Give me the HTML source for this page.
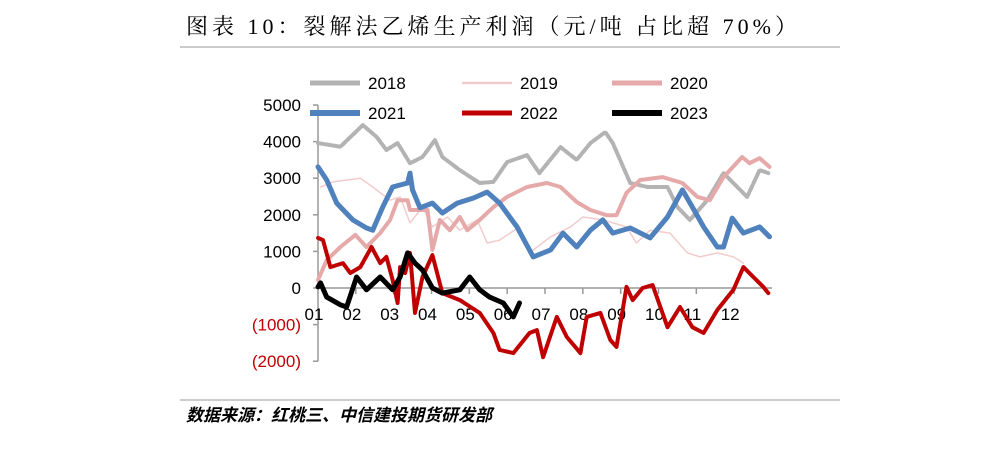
<!DOCTYPE html>
<html><head><meta charset="utf-8">
<style>
body{margin:0;background:#fff;width:1002px;height:467px;overflow:hidden;}
svg{display:block;}
</style></head>
<body>
<svg id="chart" width="1002" height="467" xmlns="http://www.w3.org/2000/svg">
<text x="186" y="34" font-family="'Liberation Serif','Noto Serif CJK SC',serif" font-size="22" letter-spacing="4" fill="#000">图表 10：裂解法乙烯生产利润（元/吨 占比超 70%）</text>
<line x1="180" y1="47" x2="840" y2="47" stroke="#999" stroke-width="1"/>
<line x1="180" y1="400" x2="840" y2="400" stroke="#999" stroke-width="1"/>
<text x="186" y="421" font-family="'Liberation Sans','Noto Sans CJK SC',sans-serif" font-size="17" font-weight="bold" font-style="italic" fill="#000">数据来源：红桃三、中信建投期货研发部</text>
<g id="plot"></g>
</svg>
<script>
const yTicks=[5000,4000,3000,2000,1000,0,-1000,-2000];
const yTickLabels=["5000","4000","3000","2000","1000","0","(1000)","(2000)"];
const monthLabels=["01","02","03","04","05","06","07","08","09","10","11","12"];
const seriesNames=["2018","2019","2020","2021","2022","2023"];
const d2018=[0,18,36,47,55,64,74,84,94,100,114,130,141,152,168,178,195,208,219,231,237,251,265,281,289,299,313,326,345,355,362];
const v2018=[3960,3860,4450,4130,3770,3960,3410,3580,4040,3580,3220,2870,2900,3440,3630,3140,3850,3500,3960,4260,3960,2870,2760,2760,2210,1860,2400,3140,2490,3220,3140];
const d2019=[2,12,34,44,58,66,74,84,92,104,114,128,136,146,162,170,187,203,213,229,248,256,267,283,297,307,321,334,342];
const v2019=[2760,2900,3000,2760,2400,2490,1780,2210,1670,1940,1580,1860,1230,1310,1670,960,1400,1670,1940,1860,1670,1230,1580,1500,960,850,960,850,680];
const d2020=[0,7,18,30,39,50,58,64,72,74,88,92,98,106,114,120,130,141,152,168,184,195,208,219,232,240,248,259,277,293,305,315,326,341,347,355,363];
const v2020=[220,760,1120,1450,1120,1500,1860,2400,2400,2130,2130,1040,1860,1580,1940,1580,1860,2210,2490,2760,2870,2760,2350,2130,1990,1990,2600,2950,3030,2870,2490,2400,3030,3580,3410,3550,3310];
const d2021=[0,7,15,28,39,44,52,60,72,74,76,82,92,100,112,125,136,146,160,173,187,197,208,219,229,237,251,267,281,293,301,310,321,326,333,342,355,363];
const v2021=[3310,2950,2320,1860,1640,1580,2210,2760,2870,3140,2680,2190,2320,2050,2320,2460,2620,2320,1670,850,1040,1500,1120,1580,1860,1500,1640,1370,1940,2680,2210,1670,1120,1120,1910,1500,1670,1400];
const d2022=[0,4,10,20,26,34,43,50,55,60,64,66,70,74,78,84,92,100,114,130,141,146,157,170,176,181,192,200,211,216,227,235,240,248,253,261,269,281,291,301,310,321,334,342,350,358,362];
const v2022=[1370,1310,570,680,410,570,1120,680,850,220,-410,570,410,960,-680,300,900,-140,-330,-680,-1230,-1690,-1780,-1230,-1150,-1890,-790,-1340,-1780,-790,-680,-1420,-1610,30,-330,0,80,-1070,-520,-1070,-1230,-600,-50,570,300,30,-140];
const d2023=[0,2,7,18,23,31,39,50,60,66,72,78,84,92,100,114,122,130,138,149,157,162];
const v2023=[30,140,-250,-460,-520,300,-50,300,-50,300,960,680,490,0,-140,-50,300,-50,-250,-410,-790,-410];

const NS="http://www.w3.org/2000/svg";
const g=document.getElementById('plot');
const X0=318,X1=772,Y0=288,PX=0.0366;
function xs(d){return X0+d/365*(X1-X0);}
function ys(v){return Y0-v*PX;}
function mk(tag,attrs){const e=document.createElementNS(NS,tag);for(const k in attrs)e.setAttribute(k,attrs[k]);g.appendChild(e);return e;}
const FONT="'Liberation Sans',sans-serif";
let ax=mk('line',{x1:X0,y1:ys(5000),x2:X0,y2:ys(-2000),stroke:'#999','stroke-width':1.5});


yTicks.forEach((t,i)=>{
  let tk=mk('line',{x1:X0-5,y1:ys(t),x2:X0,y2:ys(t),stroke:'#999','stroke-width':1.5});
  
  
  let tx=mk('text',{x:301,y:ys(t)+6,'text-anchor':'end','font-family':FONT,'font-size':17,fill:t<0?'#c00000':'#000'});
  tx.textContent=yTickLabels[i];
  
  
});
let xa=mk('line',{x1:X0,y1:Y0,x2:X1,y2:Y0,stroke:'#999','stroke-width':1.5});


monthLabels.forEach((m,i)=>{
  const x=X0+i*(X1-X0)/12;
  if(i>0){let tk=mk('line',{x1:x,y1:Y0,x2:x,y2:Y0+6,stroke:'#999','stroke-width':1.5});
  
  }
  let tx=mk('text',{x:x-4,y:320,'text-anchor':'middle','font-family':FONT,'font-size':17,fill:'#000'});
  tx.textContent=m;
  
  
});
const styles=[
 {c:'#b3b3b3',w:4,da:'6 2',lx:310,ly:83},
 {c:'#f2cccc',w:1.5,da:'',lx:462,ly:83},
 {c:'#e6a9a9',w:4,da:'',lx:612,ly:83},
 {c:'#4f81bd',w:5,da:'',lx:310,ly:113},
 {c:'#c00000',w:4,da:'',lx:462,ly:113},
 {c:'#000000',w:5,da:'',lx:612,ly:113}];
const ds=[d2018,d2019,d2020,d2021,d2022,d2023];
const vs=[v2018,v2019,v2020,v2021,v2022,v2023];
ds.forEach((d,i)=>{
  const s=styles[i];
  const pts=d.map((dd,j)=>xs(dd).toFixed(1)+','+ys(vs[i][j]).toFixed(1)).join(' ');
  let p=mk('polyline',{points:pts,fill:'none',stroke:s.c,'stroke-width':s.w,'stroke-linejoin':'round','stroke-linecap':'round'});
  if(s.da)p.setAttribute('stroke-dasharray',s.da);
  
  
  let ll=mk('line',{x1:s.lx,y1:s.ly,x2:s.lx+50,y2:s.ly,stroke:s.c,'stroke-width':s.w+1});
  
  
  let lt=mk('text',{x:s.lx+58,y:s.ly+6,'font-family':FONT,'font-size':17,fill:'#000'});
  lt.textContent=seriesNames[i];
  
  
});
</script>
</body></html>
